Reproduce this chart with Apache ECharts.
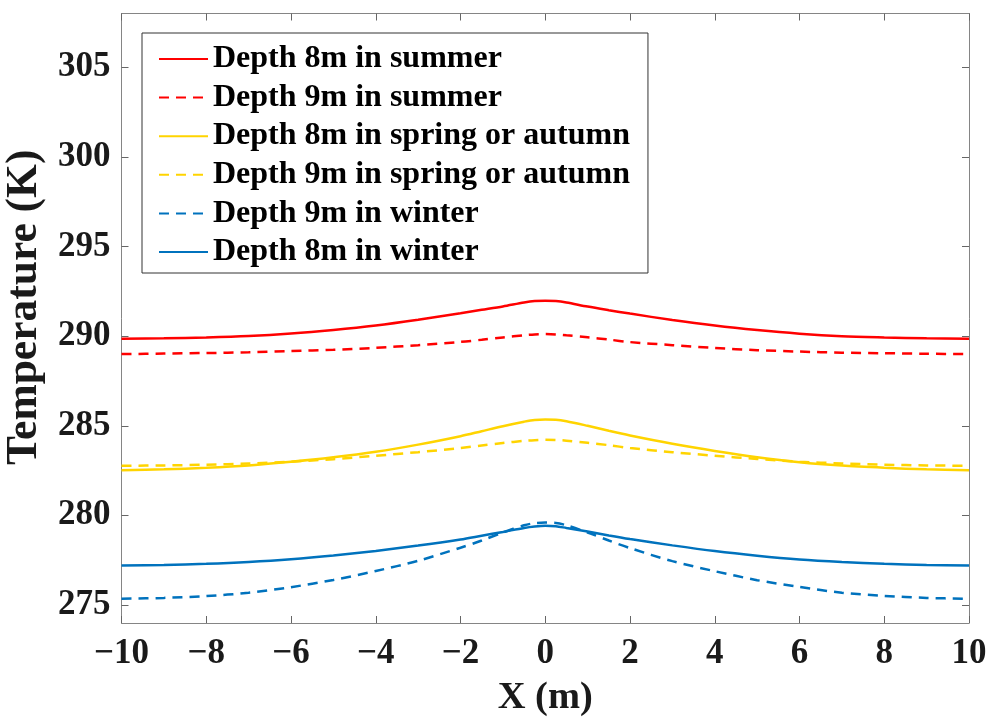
<!DOCTYPE html>
<html>
<head>
<meta charset="utf-8">
<script src="https://cdn.jsdelivr.net/npm/echarts@6/dist/echarts.min.js"></script>
<style>
  html, body { margin: 0; padding: 0; background: #ffffff; }
  #chart { width: 996px; height: 718px; }
</style>
</head>
<body>
<div id="chart"></div>
<script>
// Horizontal position (m) of each sample
const xPositions = [-10, -9, -8, -7, -6, -5, -4, -3, -2, -1.5, -1, -0.5, -0.25, 0,
  0.25, 0.5, 1, 1.5, 2, 3, 4, 5, 6, 7, 8, 9, 10];

// Temperature profiles (K)
const summer8m = [289.86, 289.88, 289.93, 290.01, 290.15, 290.35, 290.60, 290.92, 291.28, 291.47, 291.66, 291.88, 291.96, 291.98,
  291.96, 291.88, 291.65, 291.45, 291.26, 290.90, 290.59, 290.34, 290.14, 290.00, 289.93, 289.88, 289.85];
const summer9m = [289.00, 289.03, 289.06, 289.10, 289.17, 289.24, 289.35, 289.50, 289.68, 289.80, 289.93, 290.05, 290.10, 290.12,
  290.10, 290.05, 289.94, 289.81, 289.67, 289.50, 289.34, 289.22, 289.14, 289.08, 289.05, 289.02, 289.00];
const springAutumn8m = [282.52, 282.57, 282.66, 282.79, 282.99, 283.24, 283.55, 283.95, 284.42, 284.70, 284.98, 285.23, 285.33, 285.35,
  285.34, 285.26, 285.00, 284.72, 284.46, 284.00, 283.60, 283.25, 282.97, 282.78, 282.66, 282.57, 282.52];
const springAutumn9m = [282.77, 282.79, 282.83, 282.90, 283.00, 283.14, 283.33, 283.53, 283.76, 283.90, 284.04, 284.16, 284.20, 284.22,
  284.21, 284.17, 284.05, 283.92, 283.76, 283.53, 283.33, 283.15, 283.00, 282.90, 282.83, 282.79, 282.77];
const winter9m = [275.35, 275.40, 275.50, 275.69, 276.00, 276.40, 276.90, 277.47, 278.20, 278.60, 279.05, 279.45, 279.57, 279.60,
  279.58, 279.45, 279.05, 278.60, 278.18, 277.45, 276.89, 276.39, 276.01, 275.69, 275.51, 275.40, 275.35];
const winter8m = [277.21, 277.24, 277.30, 277.40, 277.55, 277.76, 278.02, 278.32, 278.66, 278.87, 279.08, 279.30, 279.38, 279.42,
  279.40, 279.30, 279.10, 278.88, 278.68, 278.33, 278.01, 277.75, 277.54, 277.40, 277.30, 277.24, 277.21];

// Axis ticks
const yTicks = [275, 280, 285, 290, 295, 300, 305];

const seriesDefs = [
  { name: 'Depth 8m in summer', values: summer8m, color: '#ff0000', dashed: false },
  { name: 'Depth 9m in summer', values: summer9m, color: '#ff0000', dashed: true },
  { name: 'Depth 8m in spring or autumn', values: springAutumn8m, color: '#ffd400', dashed: false },
  { name: 'Depth 9m in spring or autumn', values: springAutumn9m, color: '#ffd400', dashed: true },
  { name: 'Depth 9m in winter', values: winter9m, color: '#0072bd', dashed: true },
  { name: 'Depth 8m in winter', values: winter8m, color: '#0072bd', dashed: false }
];

const FONT = '"Liberation Serif", "Times New Roman", serif';
const AXIS_GRAY = '#858585';

const chart = echarts.init(document.getElementById('chart'), null, { renderer: 'canvas' });

const fmtMinus = v => String(v).replace('-', '\u2212');

chart.setOption({
  backgroundColor: '#ffffff',
  animation: false,
  grid: { left: 121.5, right: 27, top: 13.5, bottom: 95, containLabel: false, outerBoundsMode: 'none' },
  legend: {
    orient: 'vertical',
    left: 142,
    top: 33,
    padding: [10, 18, 5, 16],
    itemGap: 6.6,
    itemWidth: 49,
    itemHeight: 14,
    borderColor: '#333333',
    borderWidth: 1,
    backgroundColor: '#ffffff',
    itemStyle: { opacity: 0 },
    textStyle: { fontFamily: FONT, fontWeight: 'bold', fontSize: 32, color: '#000', lineHeight: 32 },
    data: seriesDefs.map(s => s.name)
  },
  xAxis: [{
    type: 'value', min: -10, max: 10, interval: 2,
    name: 'X (m)', nameLocation: 'middle', nameGap: 56,
    nameTextStyle: { fontFamily: FONT, fontWeight: 'bold', fontSize: 38.5, color: '#1a1a1a' },
    axisLine: { show: true, onZero: false, lineStyle: { color: AXIS_GRAY, width: 1 } },
    axisTick: { show: true, inside: true, length: 7, lineStyle: { color: '#666', width: 1 } },
    axisLabel: { fontFamily: FONT, fontWeight: 'bold', fontSize: 35, color: '#1a1a1a', margin: 13, formatter: fmtMinus },
    splitLine: { show: false }
  }, {
    type: 'value', min: -10, max: 10, interval: 2, position: 'top',
    axisLine: { show: true, onZero: false, lineStyle: { color: AXIS_GRAY, width: 1 } },
    axisTick: { show: true, inside: true, length: 7, lineStyle: { color: '#666', width: 1 } },
    axisLabel: { show: false },
    splitLine: { show: false }
  }],
  yAxis: [{
    type: 'value', min: 274, max: 308,
    name: 'Temperature (K)', nameLocation: 'middle', nameGap: 67,
    nameTextStyle: { fontFamily: FONT, fontWeight: 'bold', fontSize: 43.5, color: '#1a1a1a', padding: [0, 0, 0, 22] },
    axisLine: { show: true, onZero: false, lineStyle: { color: AXIS_GRAY, width: 1 } },
    axisTick: { show: true, inside: true, length: 7, customValues: yTicks, lineStyle: { color: '#666', width: 1 } },
    axisLabel: { fontFamily: FONT, fontWeight: 'bold', fontSize: 35, color: '#1a1a1a', margin: 11, customValues: yTicks },
    splitLine: { show: false }
  }, {
    type: 'value', min: 274, max: 308, position: 'right',
    axisLine: { show: true, onZero: false, lineStyle: { color: AXIS_GRAY, width: 1 } },
    axisTick: { show: true, inside: true, length: 7, customValues: yTicks, lineStyle: { color: '#666', width: 1 } },
    axisLabel: { show: false, customValues: yTicks },
    splitLine: { show: false }
  }],
  series: seriesDefs.map(s => ({
    name: s.name,
    type: 'line',
    xAxisIndex: 0,
    yAxisIndex: 0,
    symbol: 'none',
    smooth: 0.3,
    color: s.color,
    lineStyle: { color: s.color, width: 2.5, type: s.dashed ? [10, 7] : 'solid' },
    data: xPositions.map((x, i) => [x, s.values[i]])
  }))
});
</script>
</body>
</html>
